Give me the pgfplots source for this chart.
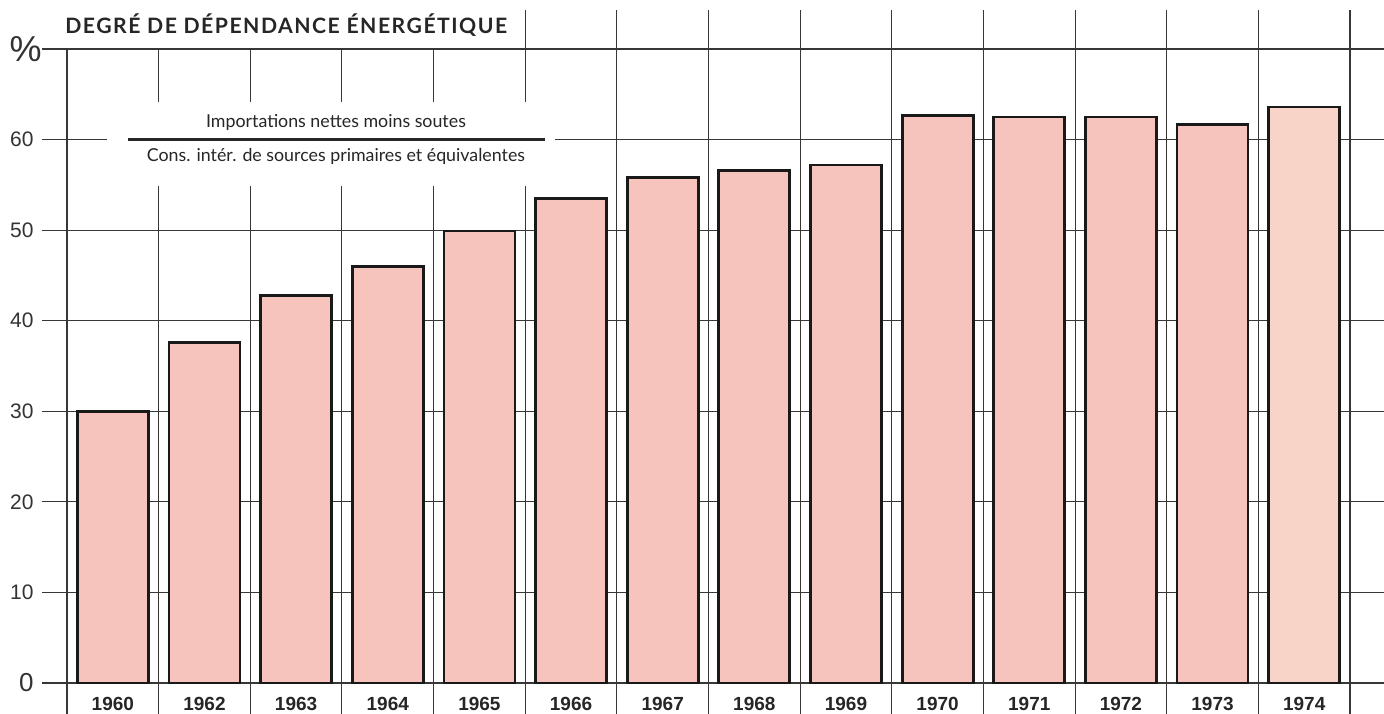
\documentclass[border=0pt]{standalone}
\usepackage{fontspec}
\setmainfont{Liberation Sans}
\newfontfamily\gill{Lato}
\newfontfamily\gilltitle[LetterSpace=7]{Lato}
\usepackage{pgfplots}
\pgfplotsset{compat=1.18}

\definecolor{barpink}{RGB}{246,196,188}
\definecolor{barpeach}{RGB}{248,212,200}
\definecolor{gridgray}{RGB}{55,55,55}

\pgfplotstableread{
x  val
0  30.0
1  37.6
2  42.8
3  46.0
4  49.9
5  53.5
6  55.8
7  56.6
8  57.2
9  62.7
10 62.5
11 62.5
12 61.7
}\dependance

\begin{document}
\begin{tikzpicture}
\path[use as bounding box] (-21pt,-15pt) rectangle (671pt,341.5pt);
\begin{axis}[
    at={(0,0)}, anchor=south west,
    scale only axis, width=671pt, height=317pt,
    xmin=-0.773, xmax=13.871, ymin=0, ymax=70,
    clip=false,
    axis line style={draw=none},
    major tick length=0pt,
    ytick={0,10,...,70},
    yticklabels={{\fontsize{13}{13}\selectfont 0},10,20,30,40,50,60,{\fontsize{18}{18}\selectfont\%\kern-4pt}},
    ymajorgrids,
    grid style={gridgray, line width=0.55pt},
    xtick={0,...,13},
    xticklabels={1960,1962,1963,1964,1965,1966,1967,1968,1969,1970,1971,1972,1973,1974},
    xticklabel style={font=\bfseries\fontsize{9.5}{10}\selectfont, anchor=center, yshift=-10.3pt, text=black!85},
    yticklabel style={font=\fontsize{10.5}{11}\selectfont, text=black!80, inner sep=4pt},
    /pgf/number format/assume math mode=true,
]
% vertical rules between the years
\pgfplotsinvokeforeach{-0.5,0.5,1.5,2.5,3.5}{
  \draw[gridgray, line width=0.55pt] (axis cs:#1,-3.4) -- (axis cs:#1,70);
}
\pgfplotsinvokeforeach{4.5,5.5,6.5,7.5,8.5,9.5,10.5,11.5,12.5,13.5}{
  \draw[gridgray, line width=0.55pt] (axis cs:#1,-3.4) -- (axis cs:#1,74.3);
}
% room for the fraction
\fill[white] (axis cs:-0.064,54.9) rectangle (axis cs:4.825,64.1);
\draw[line width=1.6pt, black!85] (axis cs:0.166,60) -- (axis cs:4.716,60);
\node[font=\gill\fontsize{8.9}{10}\selectfont, text=black!85] at (axis cs:2.435,61.9) {Importations nettes moins soutes};
\node[font=\gill\fontsize{8.9}{10}\selectfont, text=black!85] at (axis cs:2.435,58.1) {Cons. intér. de sources primaires et équivalentes};
% title
\node[anchor=west, font=\gilltitle\bfseries\fontsize{10.6}{12}\selectfont, text=black!85, inner sep=0pt] at (axis cs:-0.522,72.65) {DEGRÉ DE DÉPENDANCE ÉNERGÉTIQUE};

\addplot[ybar, bar width=0.775, fill=barpink, draw=black!90, line width=1.4pt] table[x=x, y=val] {\dependance};
\addplot[ybar, bar width=0.775, fill=barpeach, draw=black!90, line width=1.4pt] coordinates {(13,63.6)};
\end{axis}
\end{tikzpicture}
\end{document}
